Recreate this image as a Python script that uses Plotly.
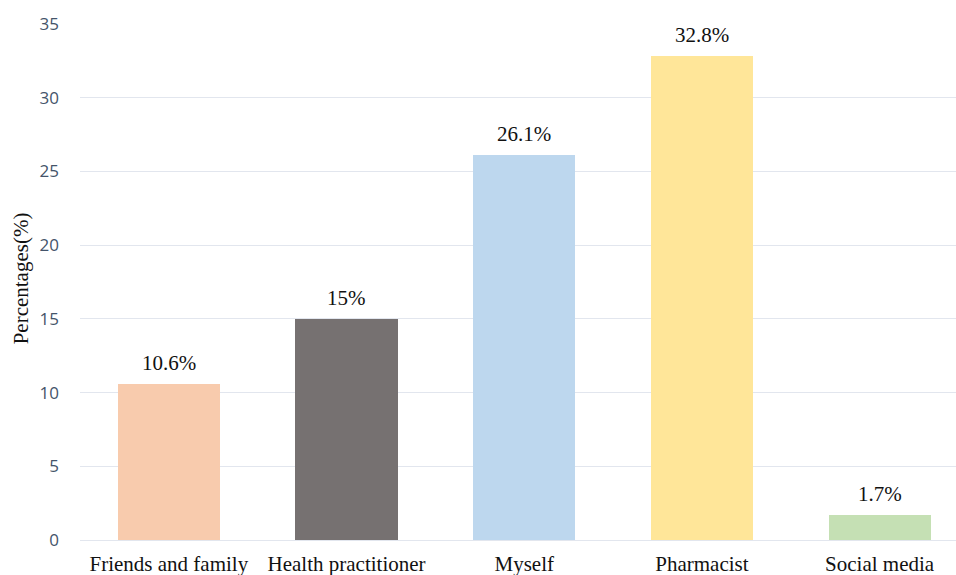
import plotly.graph_objects as go

# Source of information for self-medication (percent of respondents)
categories = ["Friends and family", "Health practitioner", "Myself", "Pharmacist", "Social media"]
percentages = [10.6, 15, 26.1, 32.8, 1.7]
value_labels = ["10.6%", "15%", "26.1%", "32.8%", "1.7%"]
bar_colors = ["#F8CBAD", "#767171", "#BDD7EE", "#FFE699", "#C5E0B4"]
y_ticks = [0, 5, 10, 15, 20, 25, 30, 35]

serif = "Liberation Serif, Times New Roman, serif"

fig = go.Figure(
    go.Bar(
        x=categories,
        y=percentages,
        marker=dict(color=bar_colors, line=dict(width=0)),
        width=0.575,
        hoverinfo="x+y",
    )
)

# value labels above each bar
for cat, val, lab in zip(categories, percentages, value_labels):
    fig.add_annotation(
        x=cat, y=val, text=lab, showarrow=False,
        yanchor="bottom", yshift=7,
        font=dict(family=serif, size=21, color="#111111"),
    )

# rotated y-axis title
fig.add_annotation(
    x=-0.0674, y=0.507, xref="paper", yref="paper",
    xanchor="center", yanchor="middle",
    text="Percentages(%)", textangle=-90, showarrow=False,
    font=dict(family=serif, size=21, color="#111111"),
)

fig.update_layout(
    width=956, height=575,
    margin=dict(l=80, r=0, t=24, b=35),
    paper_bgcolor="white", plot_bgcolor="white",
    showlegend=False,
    bargap=0,
    xaxis=dict(
        type="category",
        range=[-0.5, 4.43],
        showgrid=False, showline=False, zeroline=False,
        ticks="", ticklabelstandoff=9,
        tickfont=dict(family=serif, size=21, color="#111111"),
    ),
    yaxis=dict(
        range=[0, 35],
        tickvals=y_ticks,
        showgrid=True, gridcolor="#e2e6ee", gridwidth=1.3,
        zeroline=True, zerolinecolor="#e2e6ee", zerolinewidth=1.3,
        showline=False, ticks="",
        ticklabelstandoff=20,
        tickfont=dict(family="Open Sans, sans-serif", size=17, color="#44546a"),
    ),
)

fig.write_html("out.html")
